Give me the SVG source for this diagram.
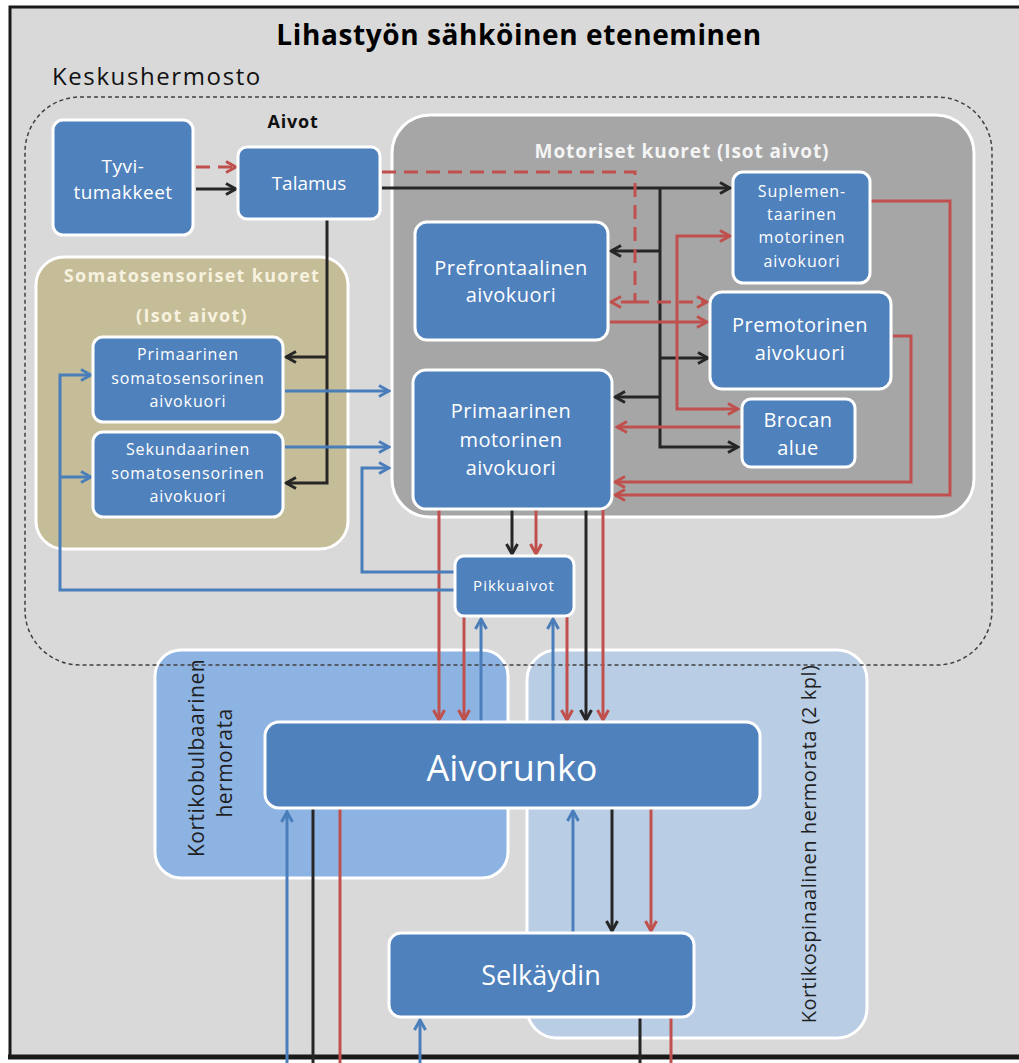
<svg xmlns="http://www.w3.org/2000/svg" width="1019" height="1063" viewBox="0 0 1019 1063">
<style>
text{font-family:"Open Sans",Lato,"Liberation Sans",sans-serif}
.node{fill:#4f81bd;stroke:#fff;stroke-width:3}
.nt{fill:#fff;text-anchor:middle}
.s20{font-size:20px;letter-spacing:0.5px}
.s16{font-size:16px;letter-spacing:0.9px}
.ln{fill:none;stroke-width:3}
.k{stroke:#262626}
.r{stroke:#c0504d}
.b{stroke:#4a7ebb}
.dash{stroke-dasharray:14 8}
.reg{stroke:#fff;stroke-width:3}
.rt{font-weight:bold;text-anchor:middle}
.vt{font-size:21px;letter-spacing:0.5px;text-anchor:middle;fill:#1f1f1f}
</style>
<defs>
<marker id="ak" viewBox="0 0 14 14" refX="12" refY="7" markerWidth="14" markerHeight="14" markerUnits="userSpaceOnUse" orient="auto"><path d="M2,1.5 L12,7 L2,12.5" fill="none" stroke="#262626" stroke-width="3"/></marker>
<marker id="ar" viewBox="0 0 14 14" refX="12" refY="7" markerWidth="14" markerHeight="14" markerUnits="userSpaceOnUse" orient="auto"><path d="M2,1.5 L12,7 L2,12.5" fill="none" stroke="#c0504d" stroke-width="3"/></marker>
<marker id="ab" viewBox="0 0 14 14" refX="12" refY="7" markerWidth="14" markerHeight="14" markerUnits="userSpaceOnUse" orient="auto"><path d="M2,1.5 L12,7 L2,12.5" fill="none" stroke="#4a7ebb" stroke-width="3"/></marker>
</defs>

<rect x="0" y="0" width="1019" height="1063" fill="#fff"/>
<rect x="10" y="7" width="1030" height="1050" fill="#d9d9d9" stroke="#1a1a1a" stroke-width="3"/>
<line x1="8" y1="1057" x2="1019" y2="1057" stroke="#1a1a1a" stroke-width="5"/>

<text x="519" y="45" text-anchor="middle" font-size="28" font-weight="bold" letter-spacing="0.6" fill="#000">Lihastyön sähköinen eteneminen</text>
<text x="52" y="85" font-size="24" letter-spacing="1.6" fill="#111">Keskushermosto</text>

<g id="kortikobulbaarinen">
<rect class="reg" x="155" y="650" width="353" height="228" rx="26" fill="#8db3e2"/>
<g transform="translate(204,758) rotate(-90)"><text class="vt" x="0" y="0">Kortikobulbaarinen</text></g>
<g transform="translate(232,763) rotate(-90)"><text class="vt" x="0" y="0">hermorata</text></g>
</g>
<g id="kortikospinaalinen">
<rect class="reg" x="527" y="650" width="340" height="388" rx="30" fill="#b9cde5"/>
<g transform="translate(816,844) rotate(-90)"><text class="vt" x="0" y="0" style="font-size:20px">Kortikospinaalinen hermorata (2 kpl)</text></g>
</g>

<g id="aivot">
<rect x="25" y="97" width="967" height="568" rx="55" fill="none" stroke="#404040" stroke-width="1.5" stroke-dasharray="4 3"/>
<text x="293" y="128" font-size="18" font-weight="bold" letter-spacing="0.8" fill="#111" text-anchor="middle">Aivot</text>
</g>

<g id="motoriset">
<rect class="reg" x="392" y="115" width="582" height="402" rx="38" fill="#a6a6a6"/>
<text class="rt" x="682" y="158" font-size="19" letter-spacing="0.9" fill="#f4f4f4">Motoriset kuoret (Isot aivot)</text>
</g>
<g id="somatosensoriset">
<rect class="reg" x="36" y="257" width="312" height="292" rx="28" fill="#c4bd97"/>
<text class="rt" x="192" y="282" font-size="18" letter-spacing="1.3" fill="#f7f2df">Somatosensoriset kuoret</text>
<text class="rt" x="192" y="322" font-size="18" letter-spacing="1.3" fill="#f7f2df">(Isot aivot)</text>
</g>

<g id="connectors">
<!-- black -->
<path class="ln k" d="M196,189 H236" marker-end="url(#ak)"/>
<path class="ln k" d="M382,188 H730" marker-end="url(#ak)"/>
<path class="ln k" d="M660,188 V447 H738" marker-end="url(#ak)"/>
<path class="ln k" d="M660,251 H611" marker-end="url(#ak)"/>
<path class="ln k" d="M660,358 H708" marker-end="url(#ak)"/>
<path class="ln k" d="M660,397 H615" marker-end="url(#ak)"/>
<path class="ln k" d="M327,219 V483 H286" marker-end="url(#ak)"/>
<path class="ln k" d="M327,357 H286" marker-end="url(#ak)"/>
<path class="ln k" d="M512,510 V554" marker-end="url(#ak)"/>
<path class="ln k" d="M586,510 V720" marker-end="url(#ak)"/>
<path class="ln k" d="M612,809 V931" marker-end="url(#ak)"/>
<path class="ln k" d="M313,809 V1063"/>
<path class="ln k" d="M640,1017 V1063"/>
<!-- red solid -->
<path class="ln r" d="M610,322 H707" marker-end="url(#ar)"/>
<path class="ln r" d="M677,322 V236 H730" marker-end="url(#ar)"/>
<path class="ln r" d="M677,322 V409 H738" marker-end="url(#ar)"/>
<path class="ln r" d="M742,427 H617" marker-end="url(#ar)"/>
<path class="ln r" d="M871,201 H950 V495 H615" marker-end="url(#ar)"/>
<path class="ln r" d="M893,336 H911 V482 H615" marker-end="url(#ar)"/>
<path class="ln r" d="M536,510 V554" marker-end="url(#ar)"/>
<path class="ln r" d="M439,510 V720" marker-end="url(#ar)"/>
<path class="ln r" d="M464,617 V720" marker-end="url(#ar)"/>
<path class="ln r" d="M567,617 V720" marker-end="url(#ar)"/>
<path class="ln r" d="M603,510 V720" marker-end="url(#ar)"/>
<path class="ln r" d="M651,809 V931" marker-end="url(#ar)"/>
<path class="ln r" d="M340,809 V1063"/>
<path class="ln r" d="M671,1017 V1063"/>
<!-- red dashed -->
<path class="ln r dash" d="M196,167 H236" marker-end="url(#ar)"/>
<path class="ln r dash" d="M382,172 H635 V302"/>
<path class="ln r dash" d="M635,302 H611" marker-end="url(#ar)"/>
<path class="ln r dash" d="M635,302 H707" marker-end="url(#ar)"/>
<!-- blue -->
<path class="ln b" d="M285,391 H389" marker-end="url(#ab)"/>
<path class="ln b" d="M285,447 H389" marker-end="url(#ab)"/>
<path class="ln b" d="M455,572 H362 V468 H389" marker-end="url(#ab)"/>
<path class="ln b" d="M455,590 H60 V375 H91" marker-end="url(#ab)"/>
<path class="ln b" d="M60,477 H91" marker-end="url(#ab)"/>
<path class="ln b" d="M481,722 V619" marker-end="url(#ab)"/>
<path class="ln b" d="M553,722 V619" marker-end="url(#ab)"/>
<path class="ln b" d="M287,1063 V812" marker-end="url(#ab)"/>
<path class="ln b" d="M573,933 V811" marker-end="url(#ab)"/>
<path class="ln b" d="M420,1063 V1020" marker-end="url(#ab)"/>
</g>

<g id="tyvitumakkeet">
<rect class="node" x="53" y="120" width="140" height="115" rx="10"/>
<text class="nt" x="123" y="173" font-size="19" letter-spacing="0.5">Tyvi-</text>
<text class="nt" x="123" y="199" font-size="19" letter-spacing="0.5">tumakkeet</text>
</g>
<g id="talamus">
<rect class="node" x="238" y="147" width="142" height="72" rx="9"/>
<text class="nt" x="309" y="190" font-size="19">Talamus</text>
</g>
<g id="suplementaarinen">
<rect class="node" x="733" y="172" width="137" height="111" rx="10"/>
<text class="nt s16" x="802" y="197">Suplemen-</text>
<text class="nt s16" x="802" y="220">taarinen</text>
<text class="nt s16" x="802" y="243">motorinen</text>
<text class="nt s16" x="802" y="267">aivokuori</text>
</g>
<g id="prefrontaalinen">
<rect class="node" x="415" y="222" width="193" height="118" rx="12"/>
<text class="nt s20" x="511" y="275">Prefrontaalinen</text>
<text class="nt s20" x="511" y="302">aivokuori</text>
</g>
<g id="premotorinen">
<rect class="node" x="710" y="292" width="181" height="97" rx="12"/>
<text class="nt s20" x="800" y="332">Premotorinen</text>
<text class="nt s20" x="800" y="360">aivokuori</text>
</g>
<g id="brocan">
<rect class="node" x="742" y="399" width="113" height="68" rx="9"/>
<text class="nt s20" x="798" y="427">Brocan</text>
<text class="nt s20" x="798" y="455">alue</text>
</g>
<g id="primaarinen-motorinen">
<rect class="node" x="413" y="370" width="199" height="139" rx="13"/>
<text class="nt s20" x="511" y="418">Primaarinen</text>
<text class="nt s20" x="511" y="447">motorinen</text>
<text class="nt s20" x="511" y="475">aivokuori</text>
</g>
<g id="primaarinen-somatosensorinen">
<rect class="node" x="93" y="337" width="190" height="85" rx="10"/>
<text class="nt s16" x="188" y="360">Primaarinen</text>
<text class="nt s16" x="188" y="384">somatosensorinen</text>
<text class="nt s16" x="188" y="407">aivokuori</text>
</g>
<g id="sekundaarinen-somatosensorinen">
<rect class="node" x="93" y="432" width="190" height="85" rx="10"/>
<text class="nt s16" x="188" y="455">Sekundaarinen</text>
<text class="nt s16" x="188" y="479">somatosensorinen</text>
<text class="nt s16" x="188" y="502">aivokuori</text>
</g>
<g id="pikkuaivot">
<rect class="node" x="455" y="556" width="119" height="60" rx="9"/>
<text class="nt" x="514" y="591" font-size="15" letter-spacing="1">Pikkuaivot</text>
</g>
<g id="aivorunko">
<rect class="node" x="265" y="722" width="495" height="86" rx="14"/>
<text class="nt" x="512" y="781" font-size="36">Aivorunko</text>
</g>
<g id="selkaydin">
<rect class="node" x="389" y="933" width="305" height="84" rx="12"/>
<text class="nt" x="541" y="985" font-size="27">Selkäydin</text>
</g>
</svg>
